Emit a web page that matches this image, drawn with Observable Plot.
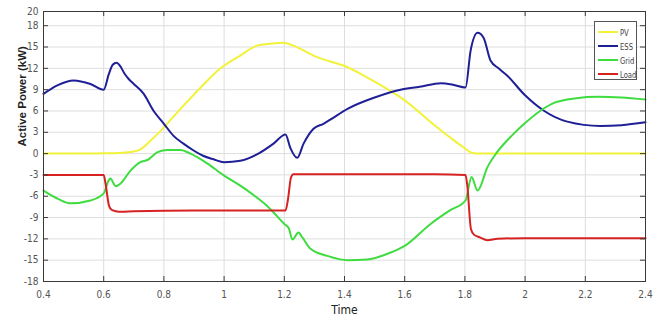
<!DOCTYPE html>
<html>
<head>
<meta charset="utf-8">
<script src="https://cdn.jsdelivr.net/npm/d3@7"></script>
<script src="https://cdn.jsdelivr.net/npm/@observablehq/plot@0.6"></script>
<style>
  html, body { margin: 0; padding: 0; background: #fff; }
  #wrap { position: relative; width: 664px; height: 322px; }
  #legend {
    position: absolute; left: 594px; top: 21px; width: 41px; height: 57px;
    border: 1px solid #555; background: #fff;
    font-family: "Liberation Sans Narrow", "DejaVu Sans Condensed", "Arial Narrow", "Liberation Sans", sans-serif;
    font-stretch: condensed;
    font-size: 9.5px; color: #444;
  }
  .row { position: absolute; left: 3px; height: 12px; display: flex; align-items: center; white-space: nowrap; }
  .sw { width: 20px; height: 2px; margin-right: 2px; flex: none; }
  .lab { display: inline-block; transform: scaleX(0.8); transform-origin: left center; }
  svg text { font-stretch: condensed; }
</style>
</head>
<body>
<div id="wrap"></div>
<script>
// ---- data ----
const seriesNames = ["PV", "ESS", "Grid", "Load"];
const seriesColors = ["#f2f23a", "#1f1f96", "#3fdc3f", "#d62222"];

const tPV = [0.4, 0.5, 0.6, 0.65, 0.7, 0.722, 0.755, 0.8, 0.855, 0.92, 0.988, 1.054, 1.11, 1.16, 1.197, 1.23, 1.297, 1.35, 1.397, 1.476, 1.576, 1.6, 1.696, 1.75, 1.795, 1.825, 1.85, 2.0, 2.2, 2.4];
const vPV = [0, 0, 0.05, 0.1, 0.3, 0.6, 1.8, 3.7, 6.3, 9.2, 12.0, 13.8, 15.2, 15.5, 15.6, 15.2, 13.8, 13.0, 12.4, 10.7, 8.2, 7.5, 4.1, 2.3, 0.9, 0.1, 0, 0, 0, 0];

const tESS = [0.4, 0.446, 0.5, 0.556, 0.6, 0.617, 0.63, 0.643, 0.655, 0.67, 0.683, 0.7, 0.733, 0.766, 0.8, 0.832, 0.865, 0.9, 0.93, 0.965, 1.0, 1.054, 1.114, 1.164, 1.204, 1.22, 1.243, 1.264, 1.297, 1.33, 1.35, 1.41, 1.5, 1.586, 1.65, 1.72, 1.76, 1.802, 1.819, 1.842, 1.862, 1.885, 1.912, 1.94, 2.0, 2.06, 2.14, 2.25, 2.32, 2.4];
const vESS = [8.4, 9.6, 10.3, 9.8, 9.0, 11.2, 12.5, 12.8, 12.3, 11.2, 10.5, 9.8, 8.4, 6.0, 4.2, 2.5, 1.4, 0.4, -0.3, -0.8, -1.2, -1.0, 0.0, 1.4, 2.7, 0.8, -0.6, 1.4, 3.5, 4.2, 4.7, 6.3, 7.9, 9.0, 9.4, 9.9, 9.7, 9.3, 14.5, 17.0, 16.3, 13.1, 12.0, 11.0, 8.2, 6.1, 4.5, 3.9, 4.0, 4.4];

const tGrid = [0.4, 0.45, 0.49, 0.556, 0.6, 0.616, 0.622, 0.64, 0.656, 0.689, 0.722, 0.745, 0.779, 0.812, 0.855, 0.888, 0.945, 1.0, 1.05, 1.1, 1.144, 1.2, 1.215, 1.227, 1.247, 1.26, 1.287, 1.343, 1.41, 1.476, 1.543, 1.6, 1.686, 1.75, 1.802, 1.822, 1.842, 1.875, 1.907, 1.96, 2.0, 2.05, 2.1, 2.17, 2.24, 2.32, 2.4];
const vGrid = [-5.2, -6.4, -7.0, -6.6, -5.6, -3.8, -3.5, -4.6, -4.2, -2.4, -1.2, -0.9, 0.2, 0.5, 0.5, 0.0, -1.4, -3.1, -4.4, -5.9, -7.4, -9.9, -10.5, -12.1, -11.1, -11.8, -13.4, -14.4, -15.0, -14.9, -14.1, -13.0, -9.9, -8.0, -6.6, -3.3, -5.2, -1.9, 0.2, 2.7, 4.3, 6.0, 7.2, 7.8, 8.0, 7.9, 7.6];

const tLoad = [0.4, 0.5, 0.6, 0.606, 0.618, 0.626, 0.64, 0.66, 0.7, 0.9, 1.1, 1.204, 1.212, 1.222, 1.23, 1.3, 1.5, 1.7, 1.802, 1.808, 1.82, 1.83, 1.85, 1.875, 1.908, 2.0, 2.2, 2.4];
const vLoad = [-3.0, -3.0, -3.0, -4.2, -7.4, -7.9, -8.1, -8.2, -8.1, -8.0, -8.0, -8.0, -6.5, -3.4, -2.9, -2.9, -2.9, -2.9, -3.0, -4.5, -10.6, -11.4, -11.8, -12.2, -12.0, -11.9, -11.9, -11.9];

const xTicks = [0.4, 0.6, 0.8, 1, 1.2, 1.4, 1.6, 1.8, 2, 2.2, 2.4];
const yTicks = [-18, -15, -12, -9, -6, -3, 0, 3, 6, 9, 12, 15, 18, 20];
const xLabel = "Time";
const yLabel = "Active Power (kW)";

// ---- build tables ----
const toRows = (ts, vs) => ts.map((t, i) => ({t, v: vs[i]}));
const tables = [toRows(tPV, vPV), toRows(tESS, vESS), toRows(tGrid, vGrid), toRows(tLoad, vLoad)];

const W = 664, H = 322, mL = 43, mR = 19, mT = 11, mB = 41;
const plotW = W - mL - mR, plotH = H - mT - mB;
const narrow = '"Liberation Sans Narrow", "DejaVu Sans Condensed", "Arial Narrow", "Liberation Sans", sans-serif';

const chart = Plot.plot({
  width: W, height: H,
  marginLeft: mL, marginRight: mR, marginTop: mT, marginBottom: mB,
  x: {domain: [0.4, 2.4]},
  y: {domain: [-18, 20]},
  style: {fontFamily: narrow, fontSize: "10px", color: "#555", background: "#fff"},
  marks: [
    Plot.gridX(xTicks, {stroke: "#dedede", strokeOpacity: 1}),
    Plot.gridY(yTicks, {stroke: "#dedede", strokeOpacity: 1}),
    ...tables.map((rows, i) => Plot.line(rows, {
      x: "t", y: "v", stroke: seriesColors[i], strokeWidth: 2, curve: "monotone-x"
    })),
    Plot.frame({stroke: "#3a3a3a", strokeWidth: 1}),
    Plot.tickX(xTicks, {x: d => d, insetTop: plotH - 5, stroke: "#3a3a3a"}),
    Plot.tickX(xTicks, {x: d => d, insetBottom: plotH - 5, stroke: "#3a3a3a"}),
    Plot.tickY(yTicks, {y: d => d, insetRight: plotW - 5, stroke: "#3a3a3a"}),
    Plot.tickY(yTicks, {y: d => d, insetLeft: plotW - 5, stroke: "#3a3a3a"}),
    Plot.axisX(xTicks, {tickSize: 0, tickPadding: 9, label: null, fill: "#555", tickFormat: d => String(d)}),
    Plot.axisY(yTicks, {tickSize: 0, tickPadding: 5, label: null, fill: "#555", tickFormat: d => String(d)}),
    Plot.text([xLabel], {frameAnchor: "bottom", dy: 32, fontSize: 12, fill: "#222", fontFamily: narrow}),
    Plot.text([yLabel], {frameAnchor: "left", dx: -21, rotate: -90, fontSize: 11.5, fontWeight: "bold", fill: "#222",
      fontFamily: '"Liberation Sans", Arial, sans-serif'})
  ]
});

const wrap = document.getElementById("wrap");
wrap.appendChild(chart);

// legend (inside the axes, top right)
const legend = document.createElement("div");
legend.id = "legend";
seriesNames.forEach((name, i) => {
  const row = document.createElement("div");
  row.className = "row";
  row.style.top = (4 + i * 14) + "px";
  const sw = document.createElement("div");
  sw.className = "sw";
  sw.style.background = seriesColors[i];
  const lab = document.createElement("span");
  lab.className = "lab";
  lab.textContent = name;
  row.appendChild(sw);
  row.appendChild(lab);
  legend.appendChild(row);
});
wrap.appendChild(legend);
</script>
</body>
</html>
